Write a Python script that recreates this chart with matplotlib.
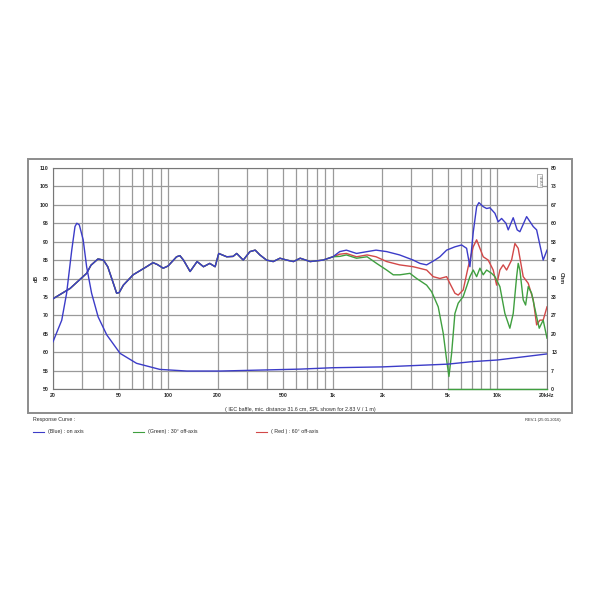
import matplotlib
matplotlib.use("Agg")
import matplotlib.pyplot as plt
import matplotlib.patches as patches
from matplotlib.ticker import FixedLocator, NullFormatter

plt.rcParams['font.family'] = ['Liberation Sans', 'DejaVu Sans']

# ----------------------------------------------------------
# data
# ----------------------------------------------------------
# low/mid part, where all three SPL curves overlap
common_freq = [20, 25.4, 32, 34, 37.5, 40.5, 43, 46.5, 48.7, 50.5, 53.5, 61.3, 74, 81, 86,
               93.4, 100, 112.6, 118, 124, 136, 150, 164, 179, 193, 203, 227, 248, 261, 286,
               314, 338, 361, 396, 435, 478, 525, 577, 634, 729, 873, 1003]
common_db = [74.5, 77.3, 81.4, 83.6, 85.3, 85.0, 83.2, 78.7, 76.0, 76.2, 78.2, 81.0, 83.2, 84.3, 83.8,
             82.8, 83.4, 85.9, 86.2, 85.0, 81.9, 84.6, 83.2, 84.1, 83.2, 86.8, 85.9, 86.0, 86.8, 85.0,
             87.3, 87.7, 86.4, 85.0, 84.6, 85.5, 85.0, 84.6, 85.5, 84.6, 85.0, 85.9]

blue_freq = [1102, 1210, 1394, 1617, 1831, 2125, 2546, 3080, 3383, 3716, 4172, 4475, 4914,
             5518, 6060, 6498, 6806, 7128, 7476, 7718, 8198, 8598, 9002, 9656, 10110, 10600,
             11260, 11630, 12470, 13180, 13690, 15040, 16500, 17300, 18960, 20000]
blue_db = [87.3, 87.7, 86.8, 87.3, 87.7, 87.3, 86.4, 85.0, 84.1, 83.7, 85.0, 85.9, 87.7,
           88.6, 89.1, 88.2, 83.2, 92.5, 99.5, 100.6, 99.5, 99.0, 99.2, 97.7, 95.4, 96.3,
           95.0, 93.2, 96.5, 93.2, 92.7, 96.8, 94.1, 93.2, 85.0, 87.7]

red_freq = [1102, 1210, 1394, 1617, 1831, 2125, 2546, 3080, 3716, 4074, 4475, 4914, 5140,
            5518, 5778, 6196, 6648, 7128, 7476, 7828, 8198, 8790, 9428, 9886, 10350, 10840,
            11370, 12190, 12770, 13370, 14340, 15380, 16500, 17300, 18110, 18960, 20000]
red_db = [86.6, 86.8, 85.9, 86.4, 85.9, 84.6, 83.7, 83.2, 82.3, 80.5, 80.0, 80.5, 78.7,
          76.0, 75.5, 76.9, 83.2, 88.6, 90.5, 88.2, 85.9, 85.0, 82.3, 78.2, 82.3, 83.7,
          82.3, 85.0, 89.5, 88.2, 80.5, 78.7, 74.2, 67.4, 68.7, 68.7, 72.3]

green_freq = [1102, 1210, 1394, 1617, 1846, 2124, 2330, 2558, 2942, 3231, 3716, 3986, 4370,
              4688, 4914, 5076, 5270, 5518, 5778, 6196, 6498, 6806, 7128, 7476, 7828, 8198,
              8598, 9220, 9656, 10350, 11100, 11900, 12470, 13080, 13370, 13690, 14340, 14830,
              15380, 16130, 17300, 17940, 18960, 20000]
green_db = [86.0, 86.4, 85.5, 85.9, 84.1, 82.3, 81.0, 81.0, 81.4, 80.0, 78.2, 76.4, 72.3,
            65.1, 57.9, 53.4, 59.7, 70.5, 73.3, 75.1, 77.8, 80.5, 82.3, 80.5, 82.8, 81.0,
            82.3, 81.4, 80.5, 77.8, 70.5, 66.5, 70.5, 80.5, 84.1, 82.3, 74.2, 72.8,
            77.8, 76.0, 69.6, 66.5, 68.7, 63.8]

green_floor_freq = [5000, 20000]
green_floor_db = [50, 50]

# impedance (right axis, Ohm)
imp_freq = [20, 22.6, 24.2, 26.0, 27.2, 27.9, 28.9, 30.5, 32, 34.3, 37.6, 42.4, 51.1, 64.3,
            89, 130, 207, 634, 1000, 2000, 5000, 7000, 10000, 20000]
imp_ohm = [17.1, 24.9, 34.7, 50.3, 58.8, 60.0, 59.4, 54.0, 44.3, 34.7, 26.1, 19.6, 12.9, 9.3,
           7.1, 6.5, 6.5, 7.2, 7.7, 8.0, 9.0, 9.9, 10.5, 12.7]

x_ticks = [20, 50, 100, 200, 500, 1000, 2000, 5000, 10000, 20000]
x_labels = ['20', '50', '100', '200', '500', '1k', '2k', '5k', '10k', '20kHz']
x_minor = [30, 40, 60, 70, 80, 90, 300, 400, 600, 700, 800, 900,
           3000, 4000, 6000, 7000, 8000, 9000]
db_ticks = [50, 55, 60, 65, 70, 75, 80, 85, 90, 95, 100, 105, 110]
ohm_labels = ['0', '7', '13', '20', '27', '33', '40', '47', '53', '60', '67', '73', '80']

BLUE = '#3c3cc8'
GREEN = '#3f9f3f'
RED = '#d24848'
TXT = '#2a2a2a'
FS = 3.8

# ----------------------------------------------------------
# figure
# ----------------------------------------------------------
fig = plt.figure(figsize=(6, 6), dpi=100)
fig.patch.set_facecolor('white')


def px(x, y):
    return x / 600, 1 - y / 600


# outer frame
fig.add_artist(patches.Rectangle(px(28, 413), 544 / 600, 254 / 600, transform=fig.transFigure,
                                 fill=False, edgecolor='#8c8c8c', lw=1.4))

ax = fig.add_axes([53 / 600, 1 - 389 / 600, 494 / 600, 221 / 600])
ax.set_xscale('log')
ax.set_xlim(20, 20000)
ax.set_ylim(50, 110)

ax.xaxis.set_major_locator(FixedLocator(x_ticks))
ax.xaxis.set_minor_locator(FixedLocator(x_minor))
ax.xaxis.set_minor_formatter(NullFormatter())
ax.set_xticklabels(x_labels, fontweight='bold')
ax.set_yticks(db_ticks)
ax.set_yticklabels([str(v) for v in db_ticks], fontweight='bold')
ax.tick_params(which='both', length=0, labelsize=FS, colors=TXT, pad=3)
ax.grid(which='both', color='#9a9a9a', lw=0.9)
ax.set_axisbelow(True)
for s in ax.spines.values():
    s.set_color('#777777')
    s.set_linewidth(0.8)

ax.plot(common_freq + red_freq, common_db + red_db, color=RED, lw=1.0, zorder=3)
ax.plot(common_freq + green_freq, common_db + green_db, color=GREEN, lw=1.0, zorder=3)
ax.plot(common_freq + blue_freq, common_db + blue_db, color=BLUE, lw=1.0, zorder=4)
ax.plot(green_floor_freq, green_floor_db, color=GREEN, lw=1.0, zorder=4, clip_on=False)

ax.set_ylabel('dB', fontsize=FS, color=TXT, labelpad=1, fontweight='bold')

ax2 = ax.twinx()
ax2.set_ylim(0, 80)
ax2.set_yticks([i * 80 / 12 for i in range(13)])
ax2.set_yticklabels(ohm_labels, fontweight='bold')
ax2.tick_params(length=0, labelsize=FS, colors=TXT, pad=3)
for s in ax2.spines.values():
    s.set_visible(False)
ax2.plot(imp_freq, imp_ohm, color=BLUE, lw=1.0, zorder=4)
ax2.set_ylabel('Ohm', fontsize=FS, color=TXT, rotation=270, labelpad=5, fontweight='bold')

# SEAS mark
ax.text(0.985, 0.97, 'SEAS', transform=ax.transAxes, rotation=270, fontsize=3.2,
        color='#888888', ha='center', va='top',
        bbox=dict(boxstyle='square,pad=0.2', fc='white', ec='#999999', lw=0.5))

# caption and legend
fig.text(*px(300, 409), '( IEC baffle, mic. distance 31.6 cm, SPL shown for 2.83 V / 1 m)',
         fontsize=FS, color=TXT, ha='center', va='center')
fig.text(*px(33, 420), 'Response Curve :', fontsize=FS, color=TXT, ha='left', va='center')
fig.text(*px(561, 420), 'REV.1 (25.01.2016)', fontsize=3.0, color=TXT, ha='right', va='center')

legend_items = [(33, BLUE, '(Blue) : on axis'),
                (133, GREEN, '(Green) : 30\u00b0 off-axis'),
                (256, RED, '( Red ) : 60\u00b0 off-axis')]
for x0, c, label in legend_items:
    x1, y1 = px(x0, 432)
    x2, _ = px(x0 + 11, 432)
    fig.add_artist(plt.Line2D([x1, x2], [y1, y1], transform=fig.transFigure, color=c, lw=0.8))
    fig.text(*px(x0 + 15, 432), label, fontsize=FS, color=TXT, ha='left', va='center')

fig.savefig('out.png', dpi=100, facecolor='white')
